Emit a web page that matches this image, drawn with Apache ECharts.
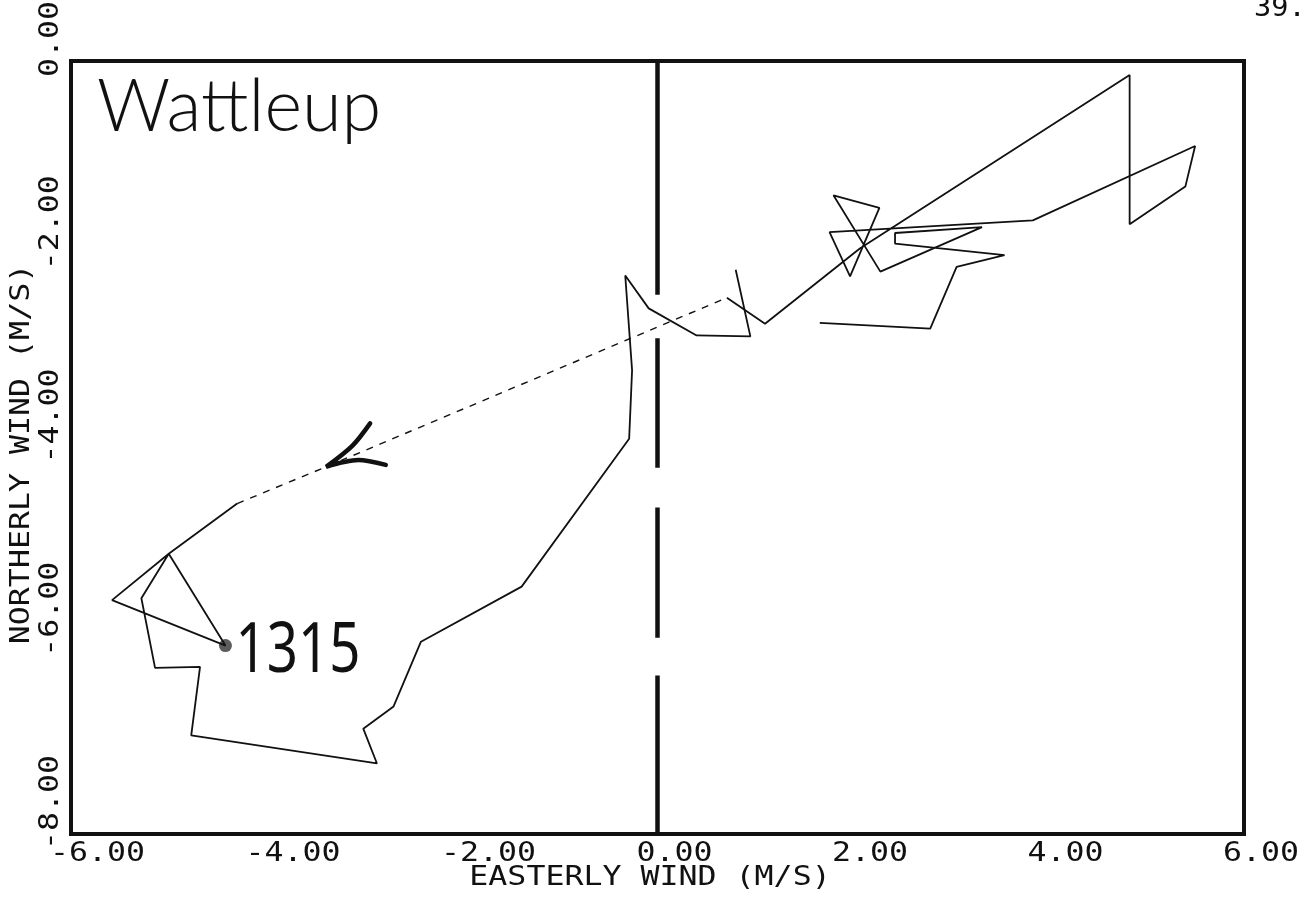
<!DOCTYPE html>
<html><head><meta charset="utf-8">
<script src="https://cdn.jsdelivr.net/npm/echarts@6/dist/echarts.min.js"></script>
<style>html,body{margin:0;padding:0;background:#fff}#c{width:1316px;height:904px}</style>
</head><body><div id="c"></div>
<script>
// Wind hodograph path (m/s), in drawing order
const easterly  = [0.80,0.95,0.40,-0.09,-0.33,-0.26,-0.29,-1.39,-2.42,-2.70,-3.01,-2.87,-4.77,-4.68,-5.14,-5.28,-5.00,-4.42,-5.58,-5.00,-4.30,-3.39,0.71,1.10,2.07,4.83,4.83,5.40,5.50,3.84,1.76,1.97,2.27,1.80,2.28,3.32,2.43,2.43,3.55,3.06,2.79,1.66];
const northerly = [-2.16,-2.85,-2.84,-2.56,-2.22,-3.20,-3.91,-5.44,-6.01,-6.68,-6.91,-7.27,-6.98,-6.27,-6.28,-5.56,-5.10,-6.05,-5.58,-5.10,-4.58,-4.20,-2.45,-2.72,-1.94,-0.145,-1.69,-1.30,-0.88,-1.65,-1.77,-2.23,-1.52,-1.39,-2.18,-1.72,-1.78,-1.89,-2.01,-2.13,-2.77,-2.71];
// Marked point (time 1315)
const markX = [-4.42];
const markY = [-6.05];
const markLabel = ['1315'];
// Hand-drawn arrowhead
const arrowX = [-2.94,-3.12,-3.39,-3.06,-2.78];
const arrowY = [-3.75,-3.98,-4.20,-4.13,-4.18];
// Broken zero line segments (northerly values)
const zeroStart = [0,-2.87,-4.62,-6.36];
const zeroEnd   = [-2.42,-4.21,-5.97,-8];
// Ticks and labels
const xTicks = [-6,-4,-2,0,2,4,6];
const xTickLabels = ['-6.00','-4.00','-2.00','0.00','2.00','4.00','6.00'];
const yTicks = [0,-2,-4,-6,-8];
const yTickLabels = ['0.00','-2.00','-4.00','-6.00','-8.00'];
const xTitle = 'EASTERLY WIND (M/S)';
const yTitle = 'NORTHERLY WIND (M/S)';
const stationName = 'Wattleup';
const pageNo = '39.';

const pts = easterly.map((x,i)=>[x, northerly[i]]);
const ink = '#111';
const series = [
  {type:'line', data: pts.slice(0,21), showSymbol:false, lineStyle:{color:ink,width:1.8}, silent:true},
  {type:'line', data: pts.slice(20,23), showSymbol:false, lineStyle:{color:ink,width:1.4,type:[7,7]}, silent:true},
  {type:'line', data: pts.slice(22), showSymbol:false, lineStyle:{color:ink,width:1.8}, silent:true},
  {type:'line', data: arrowX.map((x,i)=>[x,arrowY[i]]), smooth:0.3, showSymbol:false, lineStyle:{color:ink,width:4.5,cap:'round'}, silent:true},
  {type:'scatter', data: markX.map((x,i)=>[x,markY[i]]), symbolSize:13, itemStyle:{color:'#333'}, silent:true}
];
zeroStart.forEach((s,i)=>{
  series.push({type:'line', data:[[0,s],[0,zeroEnd[i]]], showSymbol:false, lineStyle:{color:ink,width:4.5}, silent:true});
});

const option = {
  animation:false,
  backgroundColor:'#fff',
  grid:{left:71,right:72,top:61,bottom:70,show:true,borderColor:ink,borderWidth:4,backgroundColor:'transparent'},
  xAxis:{type:'value',min:-6,max:6,interval:2,axisLine:{show:false},axisTick:{show:false},axisLabel:{show:false},splitLine:{show:false}},
  yAxis:{type:'value',min:-8,max:0,interval:2,axisLine:{show:false},axisTick:{show:false},axisLabel:{show:false},splitLine:{show:false}},
  series: series
};
const chart = echarts.init(document.getElementById('c'));
chart.setOption(option);

const mono = '"DejaVu Sans Mono", "Liberation Mono", monospace';
const g = [];
xTicks.forEach((v,i)=>{
  const p = chart.convertToPixel({gridIndex:0},[v,-8]);
  g.push({type:'text', x:p[0]-21, y:p[1]+20, scaleX:1.17, silent:true,
    style:{text:xTickLabels[i], fontFamily:mono, fontSize:27, fill:ink, align:'left', verticalAlign:'middle'}});
});
yTicks.forEach((v,i)=>{
  const p = chart.convertToPixel({gridIndex:0},[-6,v]);
  g.push({type:'text', x:p[0]-20, y:p[1]+16, rotation:Math.PI/2, scaleX:1.17, silent:true,
    style:{text:yTickLabels[i], fontFamily:mono, fontSize:27, fill:ink, align:'left', verticalAlign:'middle'}});
});
g.push({type:'text', x:650, y:878, scaleX:1.17, silent:true,
  style:{text:xTitle, fontFamily:mono, fontSize:27, fill:ink, align:'center', verticalAlign:'middle'}});
g.push({type:'text', x:22, y:454, rotation:Math.PI/2, scaleX:1.17, silent:true,
  style:{text:yTitle, fontFamily:mono, fontSize:27, fill:ink, align:'center', verticalAlign:'middle'}});
g.push({type:'text', x:97, y:108, silent:true,
  style:{text:stationName, fontFamily:'Lato, "Noto Sans", sans-serif', fontWeight:300, fontSize:72, fill:ink, align:'left', verticalAlign:'middle'}});
const mp = chart.convertToPixel({gridIndex:0},[markX[0],markY[0]]);
g.push({type:'text', x:mp[0]+10, y:mp[1]+6, scaleX:0.78, silent:true,
  style:{text:markLabel[0], fontFamily:'"Noto Sans", sans-serif', fontSize:70, fill:ink, align:'left', verticalAlign:'middle'}});
g.push({type:'text', x:1254, y:22, scaleX:1.1, silent:true,
  style:{text:pageNo, fontFamily:mono, fontSize:26, fill:ink, align:'left', verticalAlign:'bottom'}});
chart.setOption({graphic:g});
</script>
</body></html>
